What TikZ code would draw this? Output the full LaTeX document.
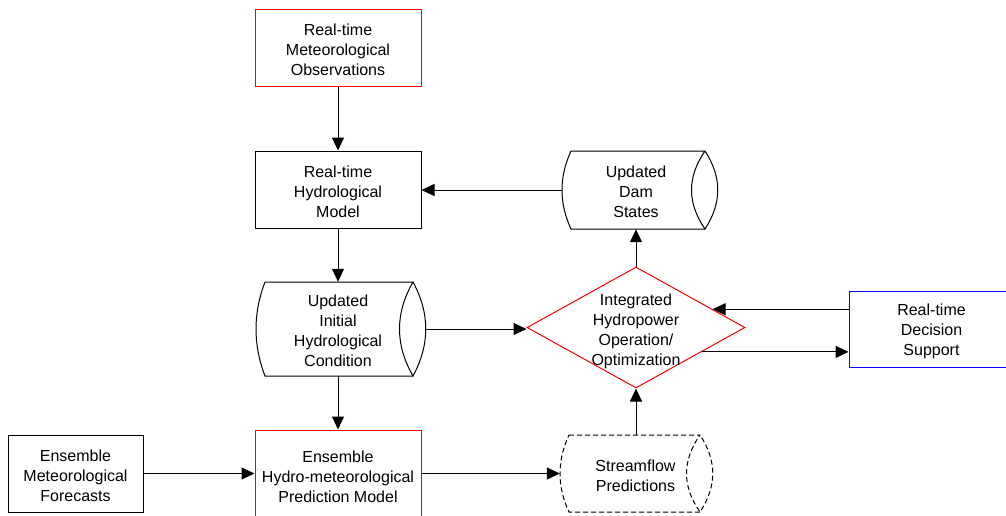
\documentclass[tikz,border=0pt]{standalone}
\usepackage{fontspec}
\setmainfont{Liberation Sans}
\usetikzlibrary{arrows.meta,calc,shapes.geometric}
\tikzset{
  x=1pt,y=-1pt,
  every node/.style={font=\fontsize{16}{20}\selectfont, align=center, inner sep=0pt},
  box/.style={draw, line width=1pt, rectangle},
  ghost/.style={rectangle, draw=none},
  txt/.style={yshift=-2pt},
  conn/.style={line width=1pt, -{Triangle[length=13pt,width=12pt]}},
  outline/.style={line width=1pt},
}
\definecolor{dsblue}{RGB}{0,0,255}
% stored-data shape: #1 left bulge x, #2 top y, #3 right corner x, #4 bottom y, #5 style
\newcommand\storedshape[5]{%
  \draw[outline,#5]
    ({#1+9},#2) -- (#3,#2)
    .. controls ({#3-18},{#2+(#4-#2)/3}) and ({#3-18},{#4-(#4-#2)/3}) .. (#3,#4)
    .. controls ({#3+17},{#4-(#4-#2)/3}) and ({#3+17},{#2+(#4-#2)/3}) .. (#3,#2);
  \draw[outline,#5]
    (#3,#4) -- ({#1+9},#4)
    .. controls ({#1-3},{#4-(#4-#2)/3}) and ({#1-3},{#2+(#4-#2)/3}) .. ({#1+9},#2);
}
\begin{document}
\begin{tikzpicture}
\useasboundingbox (0,0) rectangle (1006,515);
\clip (0,0) rectangle (1006,515);

% boxes
\node[box, draw=red, minimum width=166, minimum height=77] (obs) at (338,47.5) {};
\node[txt] (obst) at (obs.center) {Real-time\\Meteorological\\Observations};
\node[box, minimum width=166, minimum height=77] (hm) at (338,189.5) {};
\node[txt] (hmt) at (hm.center) {Real-time\\Hydrological\\Model};
\node[box, draw=red, minimum width=166, minimum height=88] (pred) at (338,474) {};
\node[txt, yshift=-1pt] (predt) at (pred.center) {Ensemble\\Hydro-meteorological\\Prediction Model};
\node[box, minimum width=135, minimum height=77] (emf) at (75.5,473.5) {};
\node[txt] (emft) at (emf.center) {Ensemble\\Meteorological\\Forecasts};
\node[box, draw=dsblue, minimum width=165, minimum height=76] (ds) at (931.5,329) {};
\node[txt] (dst) at (ds.center) {Real-time\\Decision\\Support};

% stored data shapes
\storedshape{256}{282}{413}{376}{}
\node[ghost, minimum width=170, minimum height=94] (ic) at (341,329) {};
\node[txt] (ict) at (338,329) {Updated\\Initial\\Hydrological\\Condition};
\storedshape{562}{151}{705}{229}{}
\node[ghost, minimum width=156, minimum height=78] (dam) at (640,190) {};
\node[txt] (damt) at (636,190) {Updated\\Dam\\States};
\storedshape{560}{435}{700}{512}{dashed, dash pattern=on 5pt off 3pt}
\node[ghost, minimum width=151, minimum height=77] (sf) at (635.5,473.5) {};
\node[txt] (sft) at (sf.center) {Streamflow\\Predictions};

% decision diamond
\node[diamond, draw=red, line width=1pt, minimum width=218, minimum height=121, aspect=1.8] (dia) at (636,327.5) {};
\node[txt, yshift=-2pt] (diatext) at (dia.center) {Integrated\\Hydropower\\Operation/\\Optimization};
\coordinate (dup) at ($(dia.north)!0.7!(dia.east)$);
\coordinate (dlo) at ($(dia.east)!0.4!(dia.south)$);

% connectors
\draw[conn] (obs.south) -- (hm.north);
\draw[conn] (hm.south) -- (hm.south |- ic.north);
\draw[conn] (hm.south |- ic.south) -- (pred.north);
\draw[conn] (emf.east) -- (emf.east -| pred.west);
\draw[conn] (pred.east |- sf.west) -- (sf.west);
\draw[conn] (dia.south |- sf.north) -- (dia.south);
\draw[conn] (ic.east) -- (ic.east -| dia.west);
\draw[conn] (dia.north) -- (dia.north |- dam.south);
\draw[conn] (dam.west) -- (dam.west -| hm.east);
\draw[conn] (dup -| ds.west) -- (dup);
\draw[conn] (dlo) -- (dlo -| ds.west);
\end{tikzpicture}
\end{document}
